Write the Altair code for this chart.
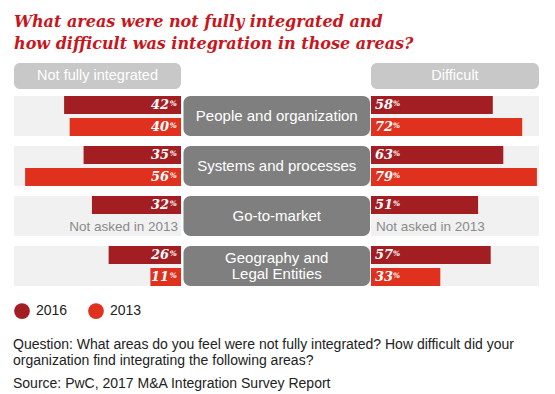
import altair as alt
import pandas as pd

# ---------------- data ----------------
areas = ["People and organization", "Systems and processes", "Go-to-market",
         "Geography and Legal Entities"]
area_labels = ["People and organization", "Systems and processes", "Go-to-market",
               "Geography and\nLegal Entities"]
years = ["2016", "2013"]
not_integrated_2016 = [42, 35, 32, 26]
not_integrated_2013 = [40, 56, None, 11]
difficult_2016 = [58, 63, 51, 57]
difficult_2013 = [72, 79, None, 33]
not_asked_text = "Not asked in 2013"
header_left = "Not fully integrated"
header_right = "Difficult"
title_lines = ["What areas were not fully integrated and",
               "how difficult was integration in those areas?"]
footer_lines = ["Question: What areas do you feel were not fully integrated? How difficult did your",
                "organization find integrating the following areas?",
                "Source: PwC, 2017 M&A Integration Survey Report"]
colors = ["#a31e22", "#e0301e"]

rows = []
for i, a in enumerate(areas):
    for side, v16, v13 in (("left", not_integrated_2016[i], not_integrated_2013[i]),
                           ("right", difficult_2016[i], difficult_2013[i])):
        for yr, v in (("2016", v16), ("2013", v13)):
            if v is not None:
                rows.append({"area": a, "year": yr, "side": side, "value": v})
df = pd.DataFrame(rows)
left_df = df[df.side == "left"]
right_df = df[df.side == "right"]
area_df = pd.DataFrame({"area": areas, "label": area_labels})
single_df = area_df[~area_df.label.str.contains("\n")]
multi_df = area_df[area_df.label.str.contains("\n")]
na_df = pd.DataFrame([{"area": a, "year": "2013", "text": not_asked_text}
                      for i, a in enumerate(areas) if not_integrated_2013[i] is None])

# ---------------- scales ----------------
LEFT_MAX, RIGHT_MAX = 60, 80
left_scale = alt.Scale(domain=[0, LEFT_MAX], range=[173, 6])
right_scale = alt.Scale(domain=[0, RIGHT_MAX], range=[363, 531])
center_scale = alt.Scale(domain=[0, 1], range=[175.5, 362])
y_enc = alt.Y("area:N", scale=alt.Scale(domain=areas, range=[39, 229],
                                        paddingInner=0.2, paddingOuter=0), axis=None)
yoff_enc = alt.YOffset("year:N", scale=alt.Scale(domain=years, paddingInner=0.18,
                                                 paddingOuter=0))
color_enc = alt.Color("year:N", scale=alt.Scale(domain=years, range=colors),
                      legend=alt.Legend(title=None, orient="none", direction="horizontal",
                                        legendX=6, legendY=246, symbolType="circle",
                                        symbolSize=250, symbolStrokeWidth=0,
                                        labelFont="Liberation Sans", labelFontSize=14,
                                        labelColor="#222", labelOffset=6,
                                        columnPadding=20))

SANS = "Liberation Sans"
SERIF = "DejaVu Serif"

# backgrounds
bg_left = alt.Chart(area_df).mark_rect(color="#f1f1f1").encode(
    x=alt.datum(LEFT_MAX, scale=left_scale, axis=None), x2=alt.datum(0), y=y_enc)
bg_right = alt.Chart(area_df).mark_rect(color="#f1f1f1").encode(
    x=alt.datum(0, scale=right_scale, axis=None), x2=alt.datum(RIGHT_MAX), y=y_enc)

# header boxes
hdr_left = alt.Chart(area_df.head(1)).mark_rect(color="#c8c8c8", cornerRadius=6).encode(
    x=alt.datum(LEFT_MAX, scale=left_scale, axis=None), x2=alt.datum(0),
    y=alt.value(6), y2=alt.value(32))
hdr_left_t = alt.Chart(area_df.head(1)).mark_text(
    text=header_left, font=SANS, fontSize=14.5, color="white", baseline="middle").encode(
    x=alt.datum(LEFT_MAX / 2, scale=left_scale, axis=None), y=alt.value(19))
hdr_right = alt.Chart(area_df.head(1)).mark_rect(color="#c8c8c8", cornerRadius=6).encode(
    x=alt.datum(0, scale=right_scale, axis=None), x2=alt.datum(RIGHT_MAX),
    y=alt.value(6), y2=alt.value(32))
hdr_right_t = alt.Chart(area_df.head(1)).mark_text(
    text=header_right, font=SANS, fontSize=14.5, color="white", baseline="middle").encode(
    x=alt.datum(RIGHT_MAX / 2, scale=right_scale, axis=None), y=alt.value(19))

# bars
bars_left = alt.Chart(left_df).mark_bar().encode(
    x=alt.X("value:Q", scale=left_scale, axis=None), x2=alt.datum(0),
    y=y_enc, yOffset=yoff_enc, color=color_enc)
bars_right = alt.Chart(right_df).mark_bar().encode(
    x=alt.X("value:Q", scale=right_scale, axis=None), x2=alt.datum(0),
    y=y_enc, yOffset=yoff_enc, color=color_enc)

num_style = dict(font=SERIF, fontSize=13, fontStyle="italic", fontWeight="bold",
                 color="white", baseline="middle")
pct_style = dict(font=SERIF, fontSize=7.5, fontStyle="italic", fontWeight="bold",
                 color="white", baseline="middle")
num_left = alt.Chart(left_df).mark_text(align="right", dx=-12, **num_style).encode(
    x=alt.datum(0, scale=left_scale, axis=None), y=y_enc, yOffset=yoff_enc,
    text="value:Q")
pct_left = alt.Chart(left_df).mark_text(align="right", dx=-4, dy=-1, text="%",
                                        **pct_style).encode(
    x=alt.datum(0, scale=left_scale, axis=None), y=y_enc, yOffset=yoff_enc)
num_right = alt.Chart(right_df).mark_text(align="left", dx=4, **num_style).encode(
    x=alt.datum(0, scale=right_scale, axis=None), y=y_enc, yOffset=yoff_enc,
    text="value:Q")
pct_right = alt.Chart(right_df).mark_text(align="left", dx=22, dy=-1, text="%",
                                          **pct_style).encode(
    x=alt.datum(0, scale=right_scale, axis=None), y=y_enc, yOffset=yoff_enc)

na_left = alt.Chart(na_df).mark_text(align="right", dx=-3, font=SANS, fontSize=13.5,
                                     color="#8a8a8a", baseline="middle").encode(
    x=alt.datum(0, scale=left_scale, axis=None), y=y_enc, yOffset=yoff_enc,
    text="text:N")
na_right = alt.Chart(na_df).mark_text(align="left", dx=5, font=SANS, fontSize=13.5,
                                      color="#8a8a8a", baseline="middle").encode(
    x=alt.datum(0, scale=right_scale, axis=None), y=y_enc, yOffset=yoff_enc,
    text="text:N")

# centre boxes
box = alt.Chart(area_df).mark_rect(color="#7f7f7f", cornerRadius=7).encode(
    x=alt.datum(0, scale=center_scale, axis=None), x2=alt.datum(1), y=y_enc)
box_t = alt.Chart(single_df).mark_text(font=SANS, fontSize=15, color="white",
                                       baseline="middle").encode(
    x=alt.datum(0.5, scale=center_scale, axis=None), y=y_enc, text="label:N")
box_t2 = alt.Chart(multi_df).mark_text(font=SANS, fontSize=15, color="white",
                                       baseline="middle", lineBreak="\n",
                                       lineHeight=16, dy=-8).encode(
    x=alt.datum(0.5, scale=center_scale, axis=None), y=y_enc, text="label:N")

# footer
footer_y = [292, 308, 331]
footer = [alt.Chart(area_df.head(1)).mark_text(
    text=t, font=SANS, fontSize=14, color="#222", align="left",
    baseline="alphabetic").encode(x=alt.value(5), y=alt.value(yy))
    for t, yy in zip(footer_lines, footer_y)]

chart = alt.layer(
    bg_left, bg_right, hdr_left, hdr_left_t, hdr_right, hdr_right_t,
    bars_left, bars_right, num_left, pct_left, num_right, pct_right,
    na_left, na_right, box, box_t, box_t2, *footer
).resolve_scale(x="independent").properties(
    width=539, height=330,
    padding={"top": 6, "left": 0, "right": 0, "bottom": 0},
    title=alt.TitleParams(title_lines, anchor="start", font=SERIF, fontSize=16,
                          fontStyle="italic", fontWeight="bold", color="#c8161d",
                          lineHeight=22, dx=6, offset=5)
).configure_view(stroke=None)

chart.save("out.html", embed_options={"renderer": "svg", "actions": False})
